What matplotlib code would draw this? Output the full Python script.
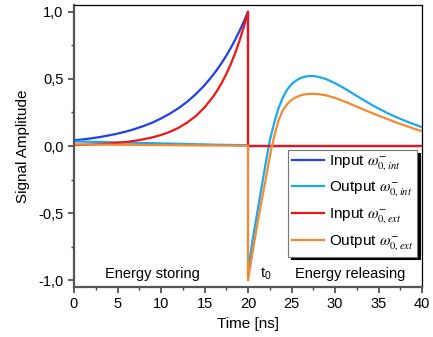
import matplotlib
matplotlib.use("Agg")
import matplotlib.pyplot as plt
from matplotlib.ticker import MultipleLocator, FuncFormatter

plt.rcParams['font.family'] = ['Liberation Sans', 'DejaVu Sans']
plt.rcParams['mathtext.fontset'] = 'stix'

# time axis before the switch-off (ns)
t_pre = [0, 1, 2, 3, 4, 5, 6, 7, 8, 9, 10, 11, 12, 13, 14, 15, 16,
         16.5, 17, 17.5, 18, 18.5, 19, 19.5, 20]
# time axis after the switch-off (ns)
t_post = [20, 20.5, 21, 21.5, 22, 22.5, 23, 23.5, 24, 24.5, 25, 25.5, 26,
          26.5, 27, 27.5, 28, 29, 30, 31, 32, 33, 34, 35, 36, 37, 38, 39, 40]

in_int_pre = [0.042, 0.049, 0.057, 0.067, 0.079, 0.092, 0.108, 0.127, 0.149,
              0.174, 0.205, 0.240, 0.281, 0.329, 0.386, 0.452, 0.530,
              0.574, 0.621, 0.672, 0.728, 0.788, 0.853, 0.924, 1.0]
in_ext_pre = [0.007, 0.009, 0.011, 0.014, 0.018, 0.024, 0.030, 0.039, 0.050,
              0.064, 0.082, 0.105, 0.135, 0.174, 0.223, 0.287, 0.368,
              0.417, 0.472, 0.535, 0.607, 0.687, 0.779, 0.883, 1.0]
out_int_pre = [0.034, 0.033, 0.031, 0.030, 0.028, 0.027, 0.025, 0.024, 0.022,
               0.021, 0.019, 0.018, 0.016, 0.015, 0.013, 0.012, 0.010,
               0.0095, 0.009, 0.0085, 0.008, 0.0075, 0.007, 0.0065, 0.006]
out_ext_pre = [0.012, 0.011, 0.011, 0.010, 0.010, 0.009, 0.009, 0.008, 0.008,
               0.007, 0.007, 0.006, 0.006, 0.005, 0.005, 0.004, 0.004,
               0.004, 0.003, 0.003, 0.003, 0.003, 0.002, 0.002, 0.002]

# inputs are switched off at t0
t_in_post = [20, 40]
in_post = [0.0, 0.0]

out_int_post = [-0.95, -0.71, -0.52, -0.33, -0.14, 0.04, 0.17, 0.28, 0.36,
                0.42, 0.46, 0.487, 0.505, 0.516, 0.521, 0.521, 0.516, 0.498,
                0.468, 0.432, 0.393, 0.353, 0.315, 0.279, 0.246, 0.216,
                0.189, 0.164, 0.14]
out_ext_post = [-1.0, -0.80, -0.61, -0.43, -0.26, -0.08, 0.07, 0.19, 0.265,
                0.312, 0.343, 0.363, 0.376, 0.384, 0.388, 0.389, 0.387, 0.377,
                0.358, 0.334, 0.307, 0.280, 0.252, 0.226, 0.201, 0.176,
                0.153, 0.131, 0.11]

c_blue = '#2140e8'
c_cyan = '#19a9f2'
c_red = '#ee1515'
c_orange = '#f5892e'

fig = plt.figure(figsize=(4.33, 3.37), dpi=100)
ax = fig.add_axes([74 / 433, 1 - 287 / 337, 348 / 433, 282 / 337])

lw = 1.6
ax.plot(t_pre + t_in_post, in_int_pre + in_post, color=c_blue, lw=lw,
        label=r'Input $\omega^{-}_{0,int}$')
ax.plot(t_pre + t_post, out_int_pre + out_int_post, color=c_cyan, lw=lw,
        label=r'Output $\omega^{-}_{0,int}$')
ax.plot(t_pre + t_in_post, in_ext_pre + in_post, color=c_red, lw=lw,
        label=r'Input $\omega^{-}_{0,ext}$')
ax.plot(t_pre + t_post, out_ext_pre + out_ext_post, color=c_orange, lw=lw,
        label=r'Output $\omega^{-}_{0,ext}$')

ax.set_xlim(0, 40)
ax.set_ylim(-1.05, 1.05)
ax.xaxis.set_major_locator(MultipleLocator(5))
ax.xaxis.set_minor_locator(MultipleLocator(2.5))
ax.yaxis.set_major_locator(MultipleLocator(0.5))
ax.yaxis.set_minor_locator(MultipleLocator(0.25))
ax.yaxis.set_major_formatter(FuncFormatter(lambda v, p: ('%.1f' % v).replace('.', ',')))

ax.tick_params(which='both', direction='out', top=False, right=False,
               colors='#444444', labelcolor='black', labelsize=10.5)
ax.tick_params(which='major', length=4, width=1.2)
ax.tick_params(which='minor', length=2.5, width=1.0)
for s in ['left', 'bottom']:
    ax.spines[s].set_linewidth(1.6)
    ax.spines[s].set_color('#555555')
for s in ['top', 'right']:
    ax.spines[s].set_linewidth(0.9)
    ax.spines[s].set_color('black')

ax.set_xlabel('Time [ns]', fontsize=11, labelpad=4)
ax.set_ylabel('Signal Amplitude', fontsize=11, labelpad=6)

ax.text(9.0, -0.95, 'Energy storing', fontsize=10.5, ha='center', va='center')
ax.text(31.8, -0.95, 'Energy releasing', fontsize=10.5, ha='center', va='center')
ax.text(22.0, -0.95, r't$_\mathregular{0}$', fontsize=10.5, ha='center', va='center')

leg = ax.legend(loc='upper left', bbox_to_anchor=(0.615, 0.486),
                borderaxespad=0, fontsize=11, handlelength=2.1,
                handletextpad=0.3, labelspacing=0.5, borderpad=0.25,
                fancybox=False, edgecolor='#777777', framealpha=1,
                shadow={'color': 'black', 'alpha': 1})
leg.get_frame().set_linewidth(0.8)

fig.savefig('out.png', dpi=100)
